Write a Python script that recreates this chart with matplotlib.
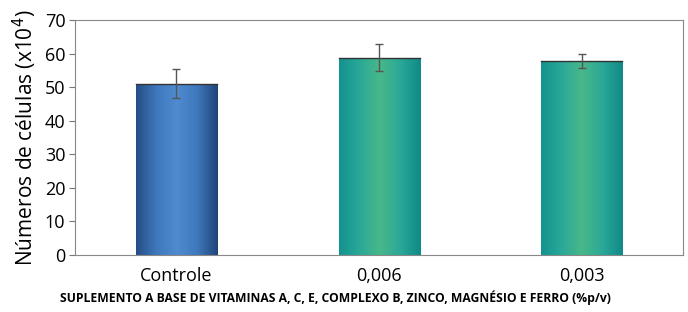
import matplotlib
matplotlib.use("Agg")
import matplotlib.pyplot as plt
import numpy as np
from matplotlib.colors import LinearSegmentedColormap

categories = ["Controle", "0,006", "0,003"]
values = [51.0, 58.8, 57.8]
errors = [4.3, 4.0, 2.1]

plt.rcParams['font.family'] = ['Open Sans', 'DejaVu Sans']

fig = plt.figure(figsize=(6.88, 3.12), dpi=100)
ax = fig.add_axes([0.109, 0.183, 0.884, 0.753])

x = np.arange(len(categories))
bars = ax.bar(x, values, width=0.4, color='none', edgecolor='none', zorder=2)

blue = LinearSegmentedColormap.from_list('b', ['#244e86', '#3f78bc', '#4f8bd0', '#3f78bc', '#1f4478'])
green = LinearSegmentedColormap.from_list('g', ['#12938f', '#2aa898', '#48b889', '#2aa898', '#0f8a88'])
grad = np.linspace(0, 1, 256).reshape(1, -1)
for bar, cmap in zip(bars, [blue, green, green]):
    x0, w, h = bar.get_x(), bar.get_width(), bar.get_height()
    im = ax.imshow(grad, cmap=cmap, aspect='auto', extent=[x0, x0 + w, 0, h], zorder=2)
    im.set_clip_path(bar)
    ax.plot([x0, x0 + w], [h, h], color='#333333', lw=1.0, zorder=3)

ax.errorbar(x, values, yerr=errors, fmt='none', ecolor='#555555', elinewidth=1.0,
            capsize=3, capthick=1.0, zorder=4)

ax.set_xlim(-0.5, 2.5)
ax.set_ylim(0, 70)
ax.set_yticks(range(0, 71, 10))
ax.set_xticks(x)
ax.set_xticklabels(categories, fontsize=13)
ax.tick_params(axis='y', labelsize=13, length=4, color='#777777', pad=3)
ax.tick_params(axis='x', length=0, pad=9)
for s in ax.spines.values():
    s.set_color('#888888')
    s.set_linewidth(0.8)

ax.set_ylabel("Números de células (x10$^4$)", fontsize=15, labelpad=4)
fig.text(0.488, 0.045,
         "SUPLEMENTO A BASE DE VITAMINAS A, C, E, COMPLEXO B, ZINCO, MAGNÉSIO E FERRO (%p/v)",
         fontsize=8.7, fontweight='bold', ha='center', va='center')

fig.savefig("out.png", dpi=100)
